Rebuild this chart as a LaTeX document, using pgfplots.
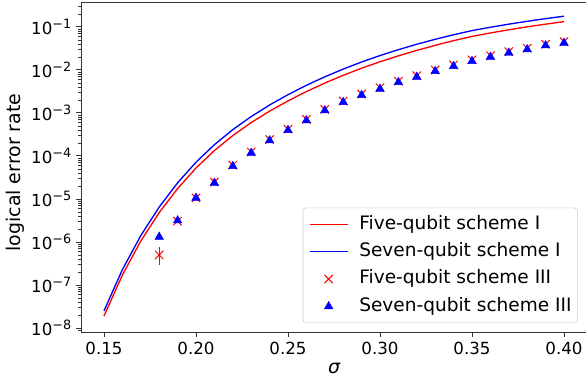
\documentclass[border=0pt]{standalone}
\usepackage{fontspec}
\setmainfont{DejaVu Sans}
\usepackage{pgfplots}
\pgfplotsset{compat=1.18}
\newcommand{\ept}[1]{10\raisebox{0.36em}{\fontsize{9.6}{10}\selectfont −#1}}
\begin{document}
\begin{tikzpicture}
\begin{axis}[
  at={(0pt,0pt)}, anchor=south west,
  scale only axis, width=379.5pt, height=247.5pt,
  xmin=0.1375, xmax=0.4125,
  ymode=log, ymin=8.07e-9, ymax=0.38,
  xtick={0.15,0.20,0.25,0.30,0.35,0.40},
  xticklabels={0.15,0.20,0.25,0.30,0.35,0.40},
  ytick={1e-8,1e-7,1e-6,1e-5,1e-4,1e-3,1e-2,1e-1},
  yticklabels={\ept{8},\ept{7},\ept{6},\ept{5},\ept{4},\ept{3},\ept{2},\ept{1}},
  minor ytick={9e-9,
    2e-8,3e-8,4e-8,5e-8,6e-8,7e-8,8e-8,9e-8,
    2e-7,3e-7,4e-7,5e-7,6e-7,7e-7,8e-7,9e-7,
    2e-6,3e-6,4e-6,5e-6,6e-6,7e-6,8e-6,9e-6,
    2e-5,3e-5,4e-5,5e-5,6e-5,7e-5,8e-5,9e-5,
    2e-4,3e-4,4e-4,5e-4,6e-4,7e-4,8e-4,9e-4,
    2e-3,3e-3,4e-3,5e-3,6e-3,7e-3,8e-3,9e-3,
    2e-2,3e-2,4e-2,5e-2,6e-2,7e-2,8e-2,9e-2,
    2e-1,3e-1},
  tick align=outside, tick pos=left,
  major tick length=3.75pt, minor tick length=2.1pt,
  axis line style={black!80, line width=0.7pt},
  major tick style={black!80, line width=0.7pt},
  minor tick style={black!80, line width=0.5pt},
  tick label style={font=\fontsize{12.5}{15}\selectfont, text=black},
  xlabel={\itshape σ},
  ylabel={logical error rate},
  label style={font=\fontsize{14.2}{17}\selectfont},
  xlabel style={at={(axis description cs:0.5,-0.125)}, anchor=base},
  ylabel style={at={(axis description cs:-0.1186,0.483)}, anchor=base},
  legend style={at={(0.982,0.027)}, anchor=south east,
    draw=black!20, rounded corners=2.5pt, fill=white, fill opacity=0.8, text opacity=1,
    font=\fontsize{13.9}{16}\selectfont,
    inner xsep=4.5pt, inner ysep=5.4pt, row sep=6.6pt,
    nodes={inner sep=0pt, text height=10.6pt, text depth=3.3pt},
    cells={anchor=west},
    /tikz/every odd column/.style={column sep=8.25pt}},
]
\addplot[red, line width=1pt, sharp corners,
  legend image code/.code={\draw[red, line width=1pt, draw opacity=1] (0pt,0pt) -- (28.5pt,0pt);}] coordinates {
(0.15,1.90e-8) (0.16,1.71e-7) (0.17,1.052e-6) (0.18,4.81e-6) (0.19,1.746e-5)
(0.20,5.25e-5) (0.21,1.334e-4) (0.22,2.98e-4) (0.23,5.96e-4) (0.24,1.102e-3)
(0.25,1.905e-3) (0.26,3.14e-3) (0.27,4.95e-3) (0.28,7.50e-3) (0.29,1.096e-2)
(0.30,1.549e-2) (0.31,2.13e-2) (0.32,2.85e-2) (0.33,3.73e-2) (0.34,4.80e-2)
(0.35,6.03e-2) (0.36,7.24e-2) (0.37,8.59e-2) (0.38,1.005e-1) (0.39,1.161e-1)
(0.40,1.327e-1)};
\addlegendentry{Five-qubit scheme I}
\addplot[blue, line width=1pt, sharp corners,
  legend image code/.code={\draw[blue, line width=1pt, draw opacity=1] (0pt,0pt) -- (28.5pt,0pt);}] coordinates {
(0.15,2.51e-8) (0.16,2.275e-7) (0.17,1.41e-6) (0.18,6.49e-6) (0.19,2.37e-5)
(0.20,7.16e-5) (0.21,1.828e-4) (0.22,4.10e-4) (0.23,8.24e-4) (0.24,1.531e-3)
(0.25,2.66e-3) (0.26,4.39e-3) (0.27,6.92e-3) (0.28,1.047e-2) (0.29,1.531e-2)
(0.30,2.163e-2) (0.31,2.96e-2) (0.32,3.96e-2) (0.33,5.16e-2) (0.34,6.59e-2)
(0.35,8.22e-2) (0.36,9.84e-2) (0.37,1.161e-1) (0.38,1.352e-1) (0.39,1.560e-1)
(0.40,1.778e-1)};
\addlegendentry{Seven-qubit scheme I}
\addplot[red, line width=0.75pt, forget plot] coordinates {(0.18,2.9e-7) (0.18,7.8e-7)};
\addplot[only marks, mark=x, mark size=4.4pt, red,
  mark options={line width=0.75pt},
  legend image code/.code={\path[draw=none, fill=none] (0pt,0pt) -- (28.5pt,0pt);
    \draw[red, draw opacity=1] plot[only marks, mark=x, mark size=4.4pt, mark options={line width=0.75pt}] coordinates {(14.25pt,0pt)};}] coordinates {
(0.18,5.0e-7) (0.19,3.05e-6) (0.20,1.06e-5) (0.21,2.48e-5) (0.22,6.1e-5)
(0.23,1.24e-4) (0.24,2.42e-4) (0.25,4.2e-4) (0.26,7.1e-4) (0.27,1.21e-3)
(0.28,1.89e-3) (0.29,2.76e-3) (0.30,3.86e-3) (0.31,5.5e-3) (0.32,7.35e-3)
(0.33,1.0e-2) (0.34,1.31e-2) (0.35,1.71e-2) (0.36,2.15e-2) (0.37,2.67e-2)
(0.38,3.2e-2) (0.39,3.96e-2) (0.40,4.55e-2)};
\addlegendentry{Five-qubit scheme III}
\addplot[only marks, mark=triangle*, mark size=3.7pt, blue,
  mark options={fill=blue, draw=blue, line width=0.3pt, yshift=-0.9pt, sharp corners},
  legend image code/.code={\path[draw=none, fill=none] (0pt,0pt) -- (28.5pt,0pt);
    \draw[blue, draw opacity=1] plot[only marks, mark=triangle*, mark size=3.7pt, mark options={fill=blue, draw=blue, fill opacity=1, line width=0.3pt, sharp corners}] coordinates {(14.25pt,0pt)};}] coordinates {
(0.18,1.40e-6) (0.19,3.37e-6) (0.20,1.13e-5) (0.21,2.52e-5) (0.22,6.18e-5)
(0.23,1.26e-4) (0.24,2.44e-4) (0.25,4.24e-4) (0.26,7.13e-4) (0.27,1.22e-3)
(0.28,1.90e-3) (0.29,2.77e-3) (0.30,3.88e-3) (0.31,5.54e-3) (0.32,7.37e-3)
(0.33,1.00e-2) (0.34,1.31e-2) (0.35,1.71e-2) (0.36,2.15e-2) (0.37,2.67e-2)
(0.38,3.20e-2) (0.39,3.96e-2) (0.40,4.55e-2)};
\addlegendentry{Seven-qubit scheme III}
\end{axis}
\pgfresetboundingbox
\useasboundingbox (-60.75pt,-36.75pt) rectangle (378.75pt,249pt);
\end{tikzpicture}
\end{document}
